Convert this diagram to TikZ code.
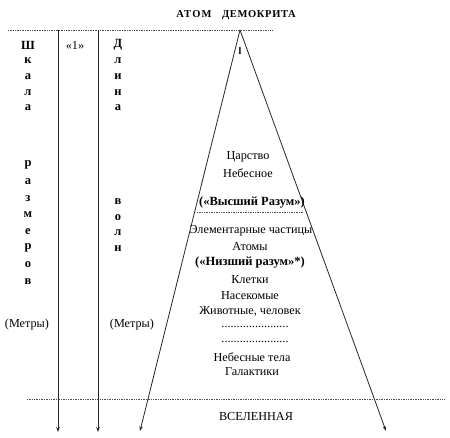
\documentclass[tikz,border=0pt]{standalone}
\usepackage{fontspec}
\setmainfont{Liberation Serif}
\usetikzlibrary{arrows.meta}
\begin{document}
\begin{tikzpicture}[x=1pt,y=-1pt,
  lbl/.style={font=\fontsize{12.2}{14}\selectfont, inner sep=0pt, align=center},
  blbl/.style={lbl, font=\bfseries\fontsize{12.5}{14}\selectfont},
  col/.style={font=\bfseries\fontsize{12.5}{14}\selectfont, inner sep=0pt},
  arr/.style={-{Stealth[length=5pt,width=3.5pt]}, line width=0.8pt, draw=black!85},
  dotline/.style={densely dotted, line width=0.7pt, draw=black!70}]
\useasboundingbox (0,0) rectangle (450,438);
% title
\node[font=\bfseries\fontsize{10.5}{12}\selectfont, inner sep=0pt] (title) at (236,15)
  {\addfontfeatures{LetterSpace=12}АТОМ\quad\addfontfeatures{LetterSpace=6}ДЕМОКРИТА};
% dotted lines
\coordinate (t1) at (8,30); \coordinate (t2) at (272,30);
\draw[dotline] (t1) -- (t2);
\coordinate (m1) at (197,212); \coordinate (m2) at (303,212);
\draw[dotline] (m1) -- (m2);
\coordinate (b1) at (27,399); \coordinate (b2) at (445,399);
\draw[dotline] (b1) -- (b2);
% vertical arrows
\coordinate (v1t) at (58,30); \coordinate (v1b) at (58,432);
\coordinate (v2t) at (98,30); \coordinate (v2b) at (98,432);
\draw[arr] (v1t) -- (v1b);
\draw[arr] (v2t) -- (v2b);
% triangle
\coordinate (apex) at (240,30);
\coordinate (bl) at (140,431);
\coordinate (br) at (386,431);
\draw[arr] (apex) -- (bl);
\draw[arr] (apex) -- (br);
\node[font=\bfseries\fontsize{10}{10}\selectfont, inner sep=0pt] (ell) at (240,51) {l};
% left column: Шкала размеров
\foreach \c [count=\i] in {Ш,к,а,л,а}
  \node[col] (s\i) at (28,{45+15.75*(\i-1)}) {\c};
\foreach \c [count=\i] in {р,а,з,м,е,р,о,в}
  \node[col] (r\i) at (28,{165+16.6*(\i-1)}) {\c};
% «1»
\node[lbl] (one) at (75,45) {«1»};
% Длина волн
\foreach \c [count=\i] in {Д,л,и,н,а}
  \node[col] (d\i) at (118,{45+15.75*(\i-1)}) {\c};
\foreach \c [count=\i] in {в,о,л,н}
  \node[col] (w\i) at (118,{202+15.4*(\i-1)}) {\c};
% units
\node[lbl] (u1) at (27,325) {(Метры)};
\node[lbl] (u2) at (132,325) {(Метры)};
% triangle contents
\node[lbl] (a1) at (248,157) {Царство};
\node[lbl] (a2) at (248,173) {Небесное};
\node[blbl] (a3) at (252,203) {(«Высший Разум»)};
\node[lbl] (a4) at (251,231) {Элементарные частицы};
\node[lbl] (a5) at (250,247) {Атомы};
\node[blbl] (a6) at (250,263) {(«Низший разум»*)};
\node[lbl] (a7) at (250,280) {Клетки};
\node[lbl] (a8) at (250,296) {Насекомые};
\node[lbl] (a9) at (250,311) {Животные, человек};
\node[lbl] (a10) at (255,327) {......................};
\node[lbl] (a11) at (255,342) {......................};
\node[lbl] (a12) at (252,357) {Небесные тела};
\node[lbl] (a13) at (252,372) {Галактики};
\node[lbl] (a14) at (256,417) {ВСЕЛЕННАЯ};
\end{tikzpicture}
\end{document}
